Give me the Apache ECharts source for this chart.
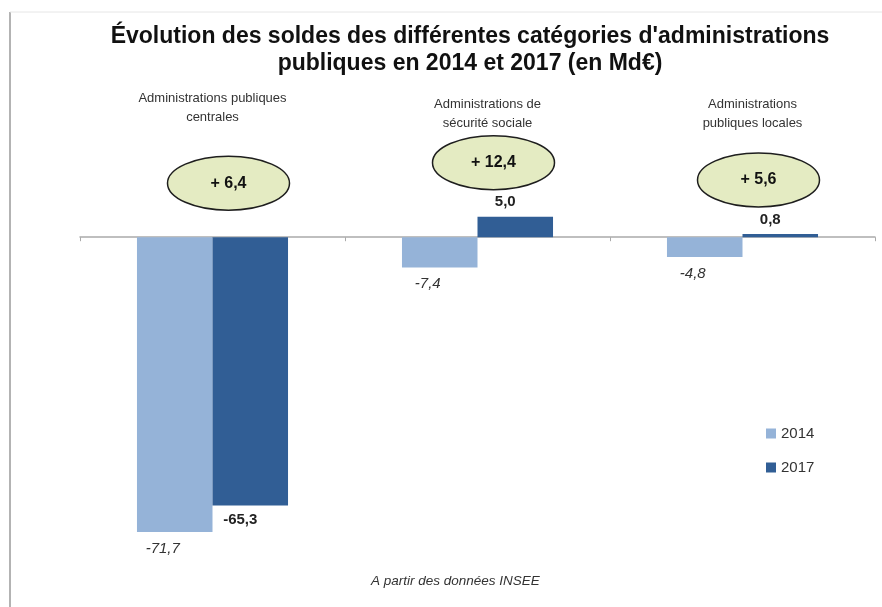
<!DOCTYPE html>
<html>
<head>
<meta charset="utf-8">
<script src="https://cdn.jsdelivr.net/npm/echarts@6/dist/echarts.min.js"></script>
<style>
  html, body { margin: 0; padding: 0; background: #fff; }
  #chart { width: 882px; height: 607px; }
</style>
</head>
<body>
<div id="chart"></div>
<script>
// catégories d'administrations
const categories = [
  'Administrations publiques\ncentrales',
  'Administrations de\nsécurité sociale',
  'Administrations\npubliques locales'
]
const soldes2014 = [-71.7, -7.4, -4.8]
const soldes2017 = [-65.3, 5.0, 0.8]
// écart 2017 - 2014
const ecarts = [6.4, 12.4, 5.6]

const fmt = v => v.toFixed(1).replace('.', ',')

const chart = echarts.init(document.getElementById('chart'))

const labelFor = vals => vals.map(v => ({
  value: v,
  label: { position: v < 0 ? 'bottom' : 'top' }
}))

const option = {
  animation: false,
  backgroundColor: '#fff',
  title: {
    text: "Évolution des soldes des différentes catégories d'administrations\npubliques en 2014 et 2017 (en Md€)",
    left: 465,
    textAlign: 'center',
    top: 18,
    textStyle: {
      fontFamily: 'Liberation Sans',
      fontSize: 23,
      fontWeight: 'bold',
      color: '#111',
      lineHeight: 27
    }
  },
  graphic: [
    { type: 'line', shape: { x1: 10, y1: 12, x2: 10, y2: 607 }, style: { stroke: '#9a9a9a', lineWidth: 1.5 } },
    { type: 'line', shape: { x1: 10, y1: 12, x2: 882, y2: 12 }, style: { stroke: '#e6e6e6', lineWidth: 1 } },
    {
      type: 'text', left: 371, top: 574,
      style: {
        text: 'A partir des données INSEE',
        font: 'italic 13.5px "Liberation Sans"',
        fill: '#333'
      }
    }
  ],
  legend: {
    orient: 'vertical',
    left: 761,
    top: 421,
    itemGap: 19,
    icon: 'rect',
    itemWidth: 10,
    itemHeight: 10,
    data: ['2014', '2017'],
    textStyle: { fontFamily: 'Liberation Sans', fontSize: 15, color: '#333' }
  },
  grid: { left: 80, right: 7, top: 155, height: 411 },
  xAxis: [
    {
      type: 'category',
      data: categories,
      axisLine: { onZero: true, lineStyle: { color: '#aaa', width: 1.5 } },
      axisTick: { show: true, length: 4, lineStyle: { color: '#aaa' } },
      axisLabel: { show: false }
    },
    {
      type: 'category',
      position: 'top',
      data: categories.map((c, i) => i === 0
        ? { value: c, textStyle: { padding: [0, 0, 6, 0] } }
        : { value: c, textStyle: { padding: [0, 0, 0, 20] } }),
      axisLine: { show: false },
      axisTick: { show: false },
      axisLabel: {
        margin: 22,
        fontFamily: 'Liberation Sans',
        fontSize: 13,
        color: '#333',
        lineHeight: 19
      }
    }
  ],
  yAxis: {
    type: 'value',
    min: -80,
    max: 20,
    show: false,
    splitLine: { show: false }
  },
  series: [
    {
      name: '2014',
      type: 'bar',
      barGap: 0,
      barCategoryGap: '43%',
      itemStyle: { color: '#95b3d8' },
      label: {
        show: true,
        distance: 9,
        offset: [-12, 0],
        formatter: p => fmt(p.value),
        fontFamily: 'Liberation Sans',
        fontSize: 15,
        fontStyle: 'italic',
        color: '#333'
      },
      data: labelFor(soldes2014)
    },
    {
      name: '2017',
      type: 'bar',
      itemStyle: { color: '#315e95' },
      label: {
        show: true,
        distance: 7,
        offset: [-10, 0],
        formatter: p => fmt(p.value),
        fontFamily: 'Liberation Sans',
        fontSize: 15,
        fontWeight: 'bold',
        color: '#222'
      },
      data: labelFor(soldes2017)
    },
    {
      // bulles des écarts, posées au-dessus de la plus haute barre
      name: 'ecart',
      type: 'custom',
      data: ecarts.map((e, i) => [i, Math.max(0, soldes2014[i], soldes2017[i]), e]),
      renderItem: (params, api) => {
        const pt = api.coord([api.value(0), api.value(1)])
        const cx = pt[0] + 16
        const cy = pt[1] - 54
        return {
          type: 'group',
          children: [
            {
              type: 'ellipse',
              shape: { cx: cx, cy: cy, rx: 61, ry: 27 },
              style: { fill: '#e4ebc2', stroke: '#1e1e1e', lineWidth: 1.5 }
            },
            {
              type: 'text',
              x: cx, y: cy,
              style: {
                text: '+ ' + fmt(api.value(2)),
                font: 'bold 16px "Liberation Sans"',
                fill: '#111',
                align: 'center',
                verticalAlign: 'middle'
              }
            }
          ]
        }
      },
      z: 5
    }
  ]
}

chart.setOption(option)
</script>
</body>
</html>
